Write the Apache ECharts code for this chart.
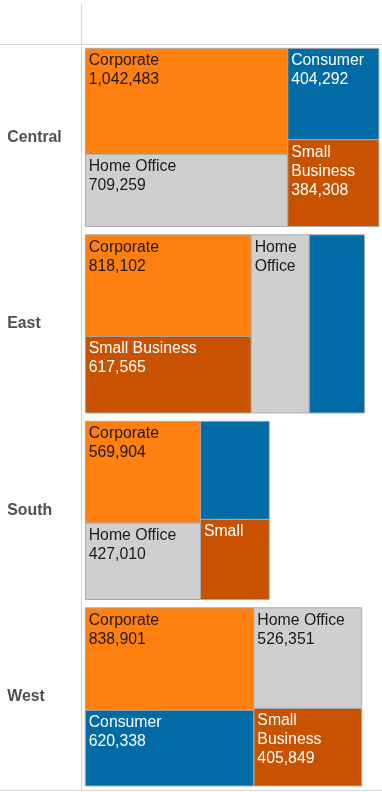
<!DOCTYPE html>
<html>
<head>
<meta charset="utf-8">
<script src="https://cdn.jsdelivr.net/npm/echarts@6/dist/echarts.min.js"></script>
<style>
html,body{margin:0;padding:0;background:#fff;}
#chart{width:382px;height:792px;}
</style>
</head>
<body>
<div id="chart"></div>
<script>
// ---- data ----
const regions = ['Central', 'East', 'South', 'West'];
const segments = ['Consumer', 'Corporate', 'Home Office', 'Small Business'];
const consumer = [404292, 479200, 327500, 620338];
const corporate = [1042483, 818102, 569904, 838901];
const homeOffice = [709259, 501700, 427010, 526351];
const smallBusiness = [384308, 617565, 267300, 405849];

// ---- layout / style constants ----
// number of (descending-sorted) segments stacked in each column of a region's treemap
const columnCounts = [[2, 2], [2, 1, 1], [2, 2], [2, 2]];
// label text overrides where the original truncated labels
const labelOverride = {
  'East|Home Office': 'Home\nOffice',
  'East|Consumer': '',
  'South|Consumer': '',
  'South|Small Business': 'Small'
};
const segColors = {
  'Consumer': '#006BA4',
  'Corporate': '#FF800E',
  'Home Office': '#CFCFCF',
  'Small Business': '#C85200'
};
const segText = {
  'Consumer': '#ffffff',
  'Corporate': '#1a1a1a',
  'Home Office': '#1a1a1a',
  'Small Business': '#ffffff'
};
const seriesValues = [consumer, corporate, homeOffice, smallBusiness];
const totals = regions.map((r, i) => seriesValues.reduce((s, arr) => s + arr[i], 0));

const FONT = '"Liberation Sans", Arial, sans-serif';
const chart = echarts.init(document.getElementById('chart'), null, {renderer: 'canvas'});

function renderItem(params, api) {
  const ri = api.value(1);
  const total = api.value(0);
  const p0 = api.coord([0, ri]);
  const p1 = api.coord([total, ri]);
  const band = api.size([0, 1])[1];
  const x0 = p0[0], x1 = p1[0];
  const top = p0[1] - band / 2 + 4.3;
  const h = band - 8.3;
  const W = x1 - x0;
  const items = segments.map((s, k) => ({name: s, v: seriesValues[k][ri]}))
    .sort((a, b) => b.v - a.v);
  const children = [];
  let idx = 0, cx = x0;
  const cols = columnCounts[ri];
  cols.forEach(cnt => {
    const colItems = items.slice(idx, idx + cnt);
    idx += cnt;
    const colSum = colItems.reduce((s, it) => s + it.v, 0);
    const cw = W * colSum / total;
    let cy = top;
    colItems.forEach(it => {
      const ch = h * it.v / colSum;
      children.push({
        type: 'rect',
        shape: {x: cx, y: cy, width: cw, height: ch},
        style: {fill: segColors[it.name], stroke: '#ababab', lineWidth: 1}
      });
      const key = regions[ri] + '|' + it.name;
      let txt = (key in labelOverride) ? labelOverride[key]
        : it.name + '\n' + it.v.toLocaleString('en-US');
      if (txt) {
        children.push({
          type: 'text',
          z2: 10,
          style: {
            text: txt,
            x: cx + 3.4,
            y: cy + 3,
            width: cw - 6,
            overflow: 'break',
            fill: segText[it.name],
            font: '15.8px ' + FONT,
            lineHeight: 19,
            verticalAlign: 'top',
            align: 'left'
          }
        });
      }
      cy += ch;
    });
    cx += cw;
  });
  return {type: 'group', children: children};
}

const option = {
  backgroundColor: '#ffffff',
  animation: false,
  grid: {left: 85.3, right: 0, top: 44, bottom: 2, containLabel: false},
  xAxis: {
    type: 'value', min: 0, max: 2567000,
    show: false
  },
  yAxis: {
    type: 'category',
    data: regions,
    inverse: true,
    axisLine: {show: false},
    axisTick: {show: false},
    splitLine: {show: false},
    axisLabel: {
      align: 'left',
      margin: 78,
      color: '#4f4f4f',
      fontWeight: 'bold',
      fontSize: 15.8,
      fontFamily: FONT
    }
  },
  graphic: [
    {type: 'line', shape: {x1: 81.5, y1: 4, x2: 81.5, y2: 790}, style: {stroke: '#d6d6d6', lineWidth: 1}, silent: true},
    {type: 'line', shape: {x1: 0, y1: 44.5, x2: 382, y2: 44.5}, style: {stroke: '#d6d6d6', lineWidth: 1}, silent: true},
    {type: 'line', shape: {x1: 0, y1: 790.5, x2: 382, y2: 790.5}, style: {stroke: '#d6d6d6', lineWidth: 1}, silent: true}
  ],
  series: [{
    type: 'custom',
    renderItem: renderItem,
    encode: {x: 0, y: 1},
    data: regions.map((r, i) => [totals[i], i]),
    clip: false
  }]
};
chart.setOption(option);
</script>
</body>
</html>
